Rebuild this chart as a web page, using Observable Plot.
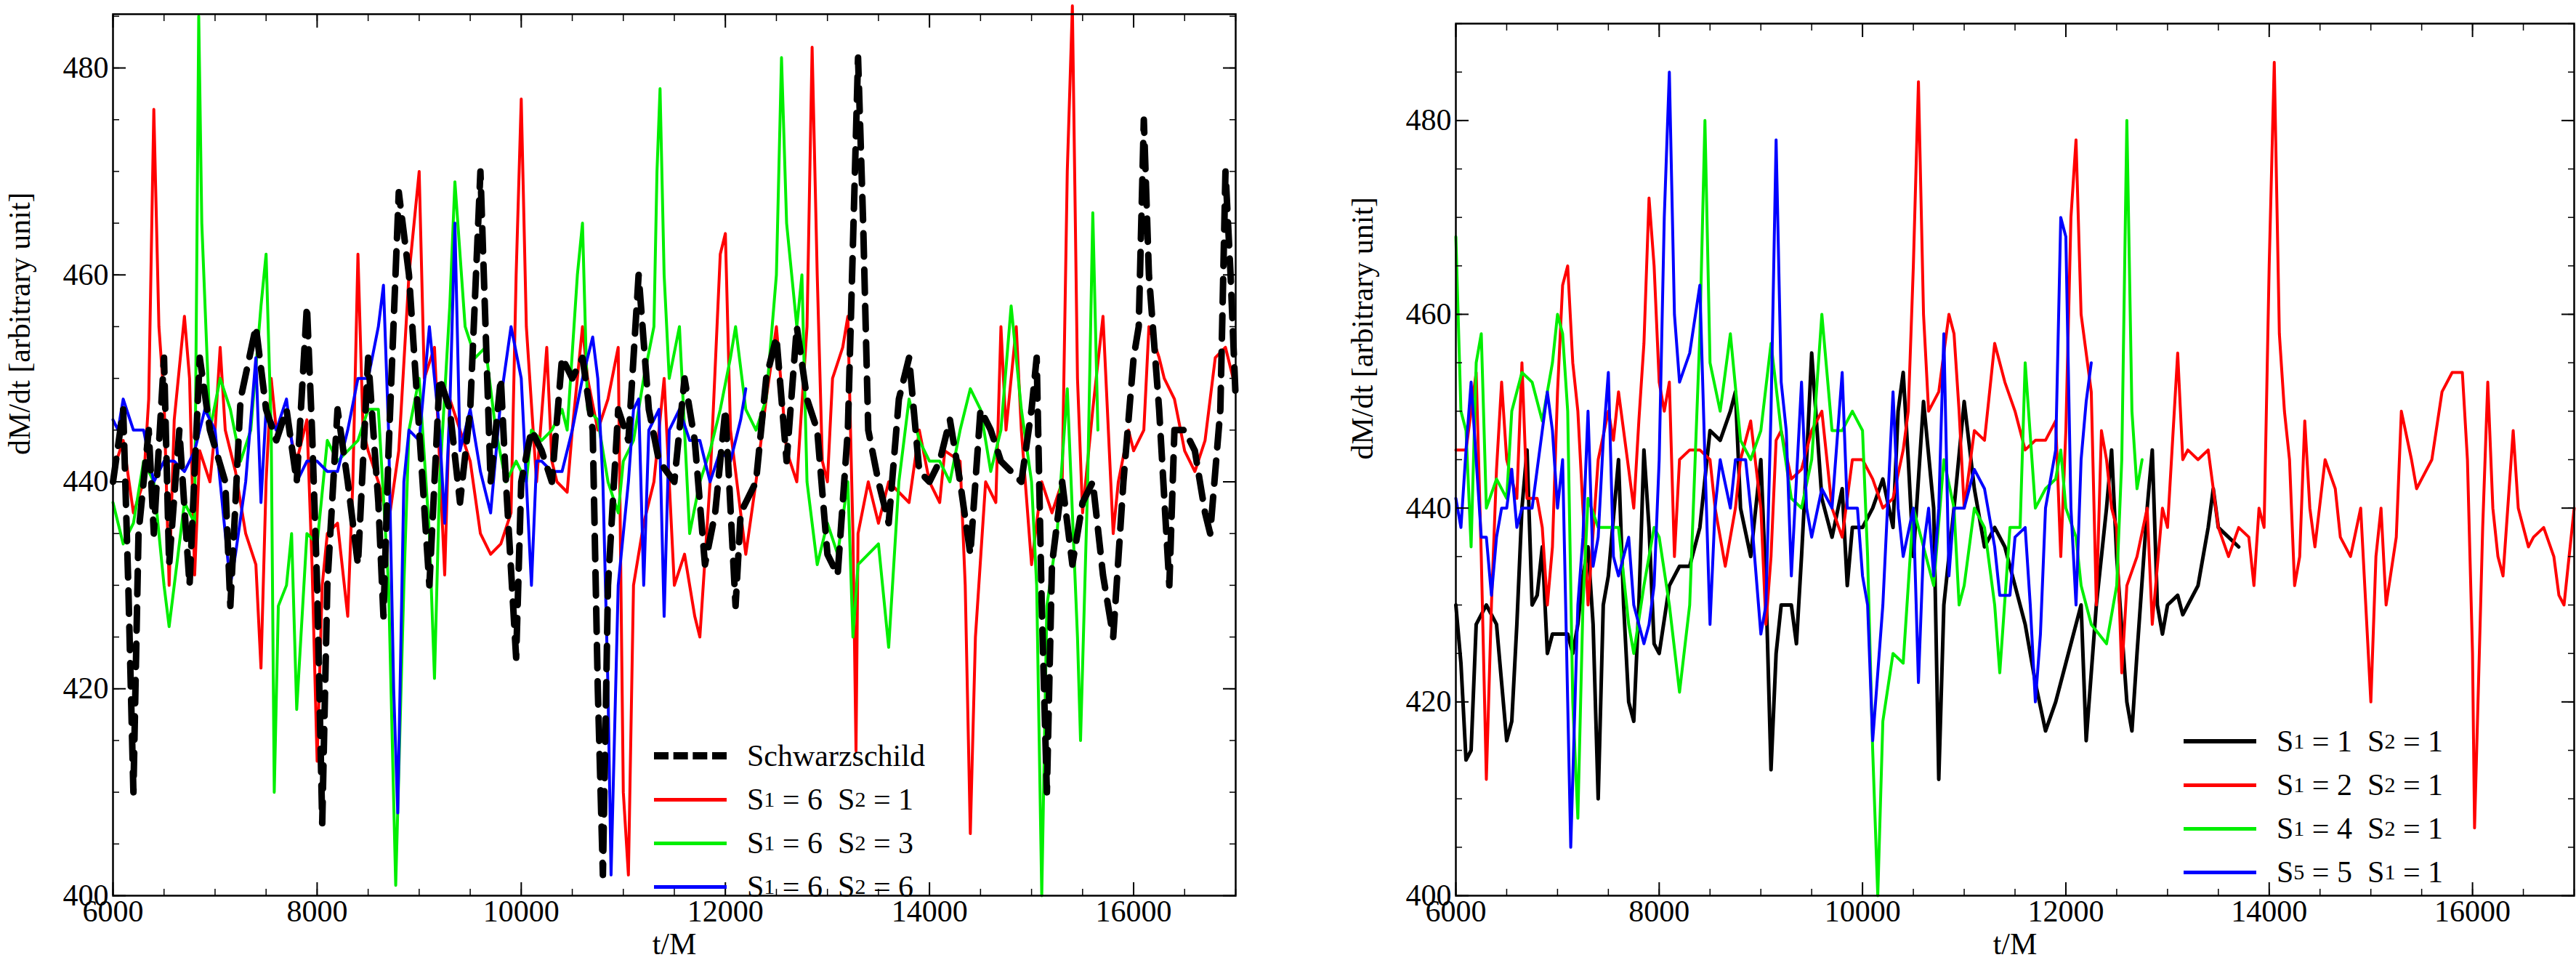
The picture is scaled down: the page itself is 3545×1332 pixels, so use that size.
<!DOCTYPE html>
<html><head><meta charset="utf-8">
<script src="https://cdn.jsdelivr.net/npm/d3@7"></script>
<script src="https://cdn.jsdelivr.net/npm/@observablehq/plot@0.6"></script>
<style>
body{margin:0;background:#fff;font-family:"Liberation Serif",serif;}
#wrap{position:relative;width:3545px;height:1332px;}
.panel{position:absolute;top:0;}
.legend{position:absolute;font-family:"Liberation Serif",serif;font-size:42px;line-height:60px;}
.legend div{display:flex;align-items:center;white-space:nowrap;}
.legend .sw{width:100px;height:0;margin-right:28px;}
sub{font-size:30px;vertical-align:-14px;}
</style></head><body>
<div id="wrap">
 <div class="panel" id="left" style="left:0"></div>
 <div class="panel" id="right" style="left:1772px"></div>
 <div class="legend" style="left:900px;top:1010px">
  <div><span class="sw" style="border-top:10px dashed #000"></span>Schwarzschild</div>
  <div><span class="sw" style="border-top:5px solid #ff0000"></span>S<sub>1</sub>&nbsp;= 6&nbsp;&nbsp;S<sub>2</sub>&nbsp;= 1</div>
  <div><span class="sw" style="border-top:5px solid #00ee00"></span>S<sub>1</sub>&nbsp;= 6&nbsp;&nbsp;S<sub>2</sub>&nbsp;= 3</div>
  <div><span class="sw" style="border-top:5px solid #0000ff"></span>S<sub>1</sub>&nbsp;= 6&nbsp;&nbsp;S<sub>2</sub>&nbsp;= 6</div>
 </div>
 <div class="legend" style="left:3005px;top:990px">
  <div><span class="sw" style="border-top:6px solid #000"></span>S<sub>1</sub>&nbsp;= 1&nbsp;&nbsp;S<sub>2</sub>&nbsp;= 1</div>
  <div><span class="sw" style="border-top:5px solid #ff0000"></span>S<sub>1</sub>&nbsp;= 2&nbsp;&nbsp;S<sub>2</sub>&nbsp;= 1</div>
  <div><span class="sw" style="border-top:5px solid #00ee00"></span>S<sub>1</sub>&nbsp;= 4&nbsp;&nbsp;S<sub>2</sub>&nbsp;= 1</div>
  <div><span class="sw" style="border-top:5px solid #0000ff"></span>S<sub>5</sub>&nbsp;= 5&nbsp;&nbsp;S<sub>1</sub>&nbsp;= 1</div>
 </div>
</div>
<script>
const xTicks=[6000,8000,10000,12000,14000,16000];
const yTicks=[400,420,440,460,480];

const schwarzschild=[[6000,440],[6100,447],[6150,430],[6200,410],[6250,435],[6350,445],[6400,435],[6500,452],[6550,432],[6650,445],[6750,430],[6850,452],[6950,445],[7100,440],[7150,428],[7250,448],[7400,455],[7500,447],[7600,444],[7700,447],[7800,440],[7900,457],[7950,445],[8000,430],[8050,407],[8100,430],[8200,447],[8300,440],[8400,432],[8500,452],[8600,438],[8650,427],[8700,443],[8800,468],[8900,460],[9000,445],[9100,430],[9200,450],[9300,447],[9400,438],[9500,447],[9600,470],[9700,440],[9800,450],[9850,440],[9950,423],[10000,440],[10100,445],[10200,443],[10300,440],[10400,452],[10500,450],[10600,452],[10700,445],[10750,420],[10800,402],[10850,430],[10950,447],[11050,444],[11150,460],[11250,447],[11350,442],[11500,440],[11600,450],[11700,444],[11800,432],[11900,437],[12000,447],[12100,428],[12150,437],[12300,440],[12400,450],[12500,454],[12600,442],[12700,455],[12800,448],[12900,445],[13000,433],[13100,431],[13200,445],[13250,463],[13300,481],[13350,465],[13400,445],[13500,440],[13600,436],[13700,448],[13800,452],[13900,441],[14000,440],[14100,442],[14200,446],[14300,440],[14400,433],[14500,447],[14600,445],[14700,442],[14800,441],[14900,440],[15000,447],[15050,452],[15100,428],[15150,410],[15200,432],[15300,440],[15400,432],[15500,438],[15600,440],[15700,431],[15800,425],[15900,440],[16000,452],[16050,455],[16100,475],[16150,460],[16250,447],[16350,430],[16400,445],[16500,445],[16600,443],[16700,437],[16750,435],[16850,447],[16900,470],[16950,460],[17000,448]];
const s6s1=[[6000,441],[6100,444],[6200,437],[6300,440],[6350,448],[6400,476],[6450,455],[6500,448],[6550,430],[6600,446],[6700,456],[6750,450],[6800,431],[6850,443],[6950,440],[7000,445],[7050,453],[7100,445],[7200,441],[7300,435],[7400,432],[7450,422],[7500,440],[7550,450],[7600,445],[7700,446],[7800,442],[7900,446],[7950,432],[8000,413],[8050,430],[8100,435],[8200,436],[8300,427],[8350,440],[8400,462],[8450,445],[8500,443],[8600,440],[8700,436],[8800,443],[8900,460],[9000,470],[9050,450],[9150,453],[9250,431],[9300,448],[9400,445],[9500,442],[9600,435],[9700,433],[9800,434],[9900,437],[9950,460],[10000,477],[10050,455],[10150,440],[10250,453],[10300,442],[10350,440],[10450,439],[10500,445],[10600,455],[10650,450],[10750,445],[10850,448],[10950,453],[11000,410],[11050,402],[11100,430],[11200,436],[11300,440],[11400,450],[11500,430],[11600,433],[11700,427],[11750,425],[11850,440],[11950,462],[12000,464],[12050,445],[12150,437],[12200,433],[12300,440],[12400,448],[12500,455],[12600,443],[12700,440],[12800,455],[12850,482],[12900,460],[12950,442],[13000,440],[13050,450],[13150,453],[13200,456],[13250,435],[13280,414],[13300,435],[13400,440],[13500,436],[13600,440],[13700,439],[13800,438],[13900,445],[14000,440],[14100,438],[14150,443],[14300,442],[14350,430],[14400,406],[14450,425],[14550,440],[14650,438],[14700,455],[14750,445],[14850,455],[14900,445],[15000,432],[15100,440],[15200,437],[15300,440],[15350,470],[15400,486],[15450,450],[15500,437],[15600,447],[15700,456],[15800,435],[15850,440],[15950,445],[16000,443],[16100,445],[16150,455],[16250,452],[16300,450],[16400,448],[16500,443],[16600,441],[16700,444],[16800,452],[16900,453],[17000,449]];
const s6s3=[[6000,438],[6100,434],[6200,436],[6300,442],[6400,440],[6500,430],[6550,426],[6600,430],[6700,438],[6800,436],[6820,460],[6840,485],[6870,465],[6950,445],[7050,450],[7150,447],[7250,442],[7350,445],[7450,457],[7500,462],[7550,445],[7580,410],[7620,428],[7700,430],[7750,435],[7800,418],[7900,435],[8000,434],[8100,444],[8200,442],[8300,443],[8400,444],[8500,447],[8600,447],[8700,430],[8770,401],[8850,430],[8900,445],[9000,450],[9100,435],[9150,421],[9200,440],[9300,457],[9350,469],[9450,455],[9550,452],[9650,453],[9750,445],[9850,440],[9950,442],[10050,440],[10100,445],[10200,444],[10300,445],[10400,447],[10450,445],[10550,460],[10600,465],[10650,447],[10750,446],[10850,440],[10950,437],[11000,442],[11100,444],[11200,450],[11300,455],[11330,470],[11360,478],[11400,460],[11450,450],[11550,455],[11650,435],[11750,440],[11850,443],[11950,447],[12050,452],[12100,455],[12200,447],[12300,445],[12400,448],[12500,460],[12550,481],[12600,465],[12700,455],[12750,460],[12800,440],[12900,432],[13000,436],[13100,433],[13200,440],[13250,425],[13300,432],[13400,433],[13500,434],[13600,424],[13700,440],[13800,448],[13900,444],[14000,442],[14100,442],[14200,440],[14300,445],[14400,449],[14500,447],[14600,441],[14700,445],[14800,457],[14900,447],[15000,440],[15050,430],[15100,400],[15150,428],[15250,435],[15350,449],[15450,425],[15480,415],[15550,440],[15600,466],[15650,445]];
const s6s6=[[6000,446],[6050,445],[6100,448],[6200,445],[6300,445],[6400,440],[6500,442],[6600,442],[6700,441],[6800,443],[6900,447],[7000,445],[7050,440],[7100,435],[7150,430],[7200,433],[7300,440],[7400,452],[7450,438],[7500,447],[7600,445],[7700,448],[7800,440],[7900,442],[8000,442],[8100,441],[8200,441],[8300,445],[8400,450],[8500,450],[8600,455],[8650,459],[8700,445],[8750,420],[8790,408],[8850,440],[8900,445],[9000,444],[9100,455],[9200,445],[9250,436],[9300,447],[9350,465],[9400,443],[9500,447],[9600,441],[9700,437],[9800,448],[9900,455],[10000,450],[10050,440],[10100,430],[10150,442],[10200,442],[10300,441],[10400,441],[10500,445],[10600,450],[10700,454],[10750,450],[10800,440],[10850,420],[10880,402],[10950,430],[11050,440],[11100,447],[11150,448],[11200,430],[11250,445],[11350,447],[11400,427],[11450,445],[11550,447],[11650,444],[11750,444],[11850,440],[11950,443],[12050,442],[12150,446],[12200,449]];

const s1s1=[[6000,430],[6050,424],[6100,414],[6150,415],[6200,428],[6300,430],[6400,428],[6450,422],[6500,416],[6550,418],[6600,428],[6650,440],[6700,446],[6750,430],[6800,431],[6850,436],[6900,425],[6950,427],[7000,427],[7100,427],[7150,425],[7200,428],[7250,433],[7300,436],[7350,428],[7400,410],[7450,430],[7500,433],[7600,445],[7650,430],[7700,420],[7750,418],[7800,430],[7850,446],[7900,438],[7950,426],[8000,425],[8100,432],[8200,434],[8300,434],[8400,438],[8500,448],[8600,447],[8700,450],[8750,452],[8800,440],[8900,435],[9000,445],[9050,432],[9100,413],[9150,425],[9200,430],[9300,430],[9350,426],[9400,435],[9450,445],[9500,456],[9600,441],[9700,437],[9800,442],[9850,432],[9900,438],[10000,438],[10100,440],[10200,443],[10300,438],[10350,450],[10400,454],[10450,445],[10500,435],[10600,451],[10700,440],[10750,412],[10800,430],[10900,440],[11000,451],[11100,442],[11200,436],[11300,438],[11400,436],[11500,432],[11600,428],[11700,422],[11800,417],[11900,420],[12000,424],[12100,428],[12150,430],[12200,416],[12300,430],[12400,440],[12450,446],[12500,435],[12600,420],[12650,417],[12700,425],[12800,440],[12850,446],[12900,430],[12950,427],[13000,430],[13100,431],[13150,429],[13200,430],[13300,432],[13400,438],[13450,442],[13500,438],[13600,437],[13700,436]];
const s2s1=[[6000,446],[6100,446],[6150,450],[6200,454],[6250,435],[6300,412],[6350,430],[6400,444],[6450,453],[6500,445],[6550,443],[6600,441],[6650,455],[6700,441],[6800,441],[6850,438],[6900,430],[6950,436],[7000,452],[7050,463],[7100,465],[7150,455],[7200,450],[7250,440],[7300,430],[7400,445],[7500,450],[7550,447],[7600,452],[7700,444],[7750,440],[7800,449],[7850,457],[7900,472],[7950,465],[8000,453],[8050,450],[8100,453],[8150,435],[8200,445],[8300,446],[8400,446],[8500,445],[8550,440],[8650,434],[8750,440],[8800,445],[8900,449],[9000,440],[9050,428],[9100,435],[9150,447],[9200,448],[9300,443],[9400,444],[9500,448],[9600,450],[9700,440],[9800,437],[9900,445],[10000,445],[10100,443],[10200,440],[10300,441],[10400,446],[10450,450],[10500,465],[10550,484],[10600,460],[10650,450],[10750,452],[10850,460],[10900,458],[10950,450],[11000,440],[11100,448],[11200,447],[11300,457],[11400,453],[11500,450],[11600,446],[11700,447],[11800,447],[11900,449],[11950,435],[12000,448],[12050,470],[12100,478],[12150,460],[12250,452],[12300,430],[12350,448],[12400,445],[12450,440],[12500,438],[12550,423],[12600,432],[12700,435],[12800,440],[12850,428],[12950,440],[13000,438],[13100,456],[13150,445],[13200,446],[13300,445],[13400,446],[13500,438],[13600,435],[13700,438],[13800,437],[13850,432],[13900,440],[13950,438],[14000,465],[14050,486],[14100,458],[14150,450],[14200,445],[14250,432],[14300,435],[14350,449],[14400,440],[14450,436],[14550,445],[14650,442],[14700,437],[14800,435],[14900,440],[14950,430],[15000,420],[15050,435],[15100,440],[15150,430],[15250,437],[15300,450],[15400,445],[15450,442],[15500,443],[15600,445],[15700,452],[15800,454],[15900,454],[15950,445],[16000,425],[16020,407],[16080,430],[16100,438],[16150,453],[16200,440],[16250,435],[16300,433],[16400,448],[16450,440],[16550,436],[16600,437],[16700,438],[16800,435],[16850,431],[16900,430],[16950,435],[17000,440]];
const s4s1=[[6000,468],[6050,450],[6100,448],[6150,436],[6200,455],[6250,458],[6300,440],[6400,443],[6500,441],[6550,450],[6650,454],[6750,453],[6850,449],[6950,455],[7000,460],[7050,458],[7100,450],[7150,420],[7200,408],[7250,430],[7300,441],[7400,438],[7500,438],[7600,438],[7700,428],[7750,425],[7850,432],[7950,438],[8000,437],[8100,430],[8200,421],[8300,430],[8400,458],[8450,480],[8500,455],[8600,450],[8700,458],[8800,447],[8900,445],[9000,448],[9100,457],[9200,448],[9300,441],[9400,440],[9500,445],[9600,460],[9700,448],[9800,448],[9900,450],[10000,448],[10050,435],[10100,415],[10150,400],[10200,418],[10300,425],[10400,424],[10500,440],[10600,436],[10700,432],[10800,445],[10900,440],[10950,430],[11000,432],[11100,440],[11200,438],[11300,430],[11350,423],[11450,438],[11550,438],[11600,455],[11700,440],[11800,442],[11900,443],[11950,446],[12000,440],[12100,437],[12150,432],[12250,428],[12400,426],[12500,432],[12550,445],[12600,480],[12650,450],[12700,442],[12750,445]];
const s5s1=[[6000,441],[6050,438],[6100,446],[6150,453],[6200,445],[6250,437],[6300,437],[6350,431],[6400,437],[6450,440],[6500,440],[6550,444],[6600,438],[6650,440],[6750,440],[6800,444],[6900,452],[6950,448],[7000,440],[7050,445],[7100,420],[7130,405],[7200,430],[7250,437],[7300,450],[7350,434],[7400,437],[7450,447],[7500,454],[7550,435],[7600,433],[7700,437],[7750,430],[7850,426],[7900,428],[7950,432],[8000,445],[8050,470],[8100,485],[8150,460],[8200,453],[8300,456],[8400,463],[8450,445],[8500,428],[8550,440],[8600,445],[8700,440],[8750,445],[8850,445],[8900,440],[9000,427],[9050,430],[9100,450],[9150,478],[9200,453],[9250,448],[9300,433],[9400,453],[9450,440],[9500,437],[9600,442],[9700,440],[9800,454],[9850,440],[9950,440],[10000,433],[10050,430],[10100,416],[10200,430],[10300,452],[10350,440],[10400,435],[10500,440],[10550,422],[10600,436],[10650,440],[10700,433],[10750,440],[10800,458],[10850,433],[10900,440],[11000,440],[11100,444],[11200,442],[11300,436],[11350,431],[11450,431],[11500,437],[11600,438],[11650,430],[11700,420],[11750,427],[11800,440],[11900,446],[11950,470],[12000,468],[12050,440],[12100,430],[12150,445],[12200,451],[12250,455]];

const font='"Liberation Serif", serif';
const fmt=d3.format("d");
function frameMarks(){
  const xMinor=d3.range(6000,17001,500), yMinor=d3.range(400,491,5);
  return [
    Plot.frame({stroke:"#000",strokeWidth:2.5}),
    Plot.axisX(xTicks,{anchor:"bottom",tickSize:-18,tickPadding:24,fontSize:42,tickFormat:fmt,strokeWidth:2,label:null}),
    Plot.axisX(xMinor,{anchor:"bottom",tickSize:-9,text:null,strokeWidth:1.5,label:null}),
    Plot.axisX(xTicks,{anchor:"top",tickSize:-18,text:null,strokeWidth:2,label:null}),
    Plot.axisX(xMinor,{anchor:"top",tickSize:-9,text:null,strokeWidth:1.5,label:null}),
    Plot.axisY(yTicks,{anchor:"left",tickSize:-18,tickPadding:24,fontSize:42,tickFormat:fmt,strokeWidth:2,label:null}),
    Plot.axisY(yMinor,{anchor:"left",tickSize:-9,text:null,strokeWidth:1.5,label:null}),
    Plot.axisY(yTicks,{anchor:"right",tickSize:-18,text:null,strokeWidth:2,label:null}),
    Plot.axisY(yMinor,{anchor:"right",tickSize:-9,text:null,strokeWidth:1.5,label:null})
  ];
}
function line(data,color,w,dash){
  return Plot.line(data,{x:d=>d[0],y:d=>d[1],stroke:color,strokeWidth:w,strokeDasharray:dash,strokeLinejoin:"round"});
}
function makePlot(opts,yMax,lines){
  return Plot.plot({
    width:opts.width,height:1332,
    marginLeft:opts.ml,marginRight:opts.mr,marginTop:opts.mt,marginBottom:100,
    style:{fontFamily:font,fontSize:"42px",background:"#fff",color:"#000"},
    x:{domain:[6000,17000]},
    y:{domain:[400,yMax]},
    marks:[...lines,...frameMarks(),
      Plot.text(["t/M"],{frameAnchor:"bottom",dy:80,fontSize:42,fontFamily:font}),
      Plot.text(["dM/dt [arbitrary unit]"],{frameAnchor:"left",dx:-128,rotate:-90,fontSize:42,fontFamily:font})
    ]
  });
}
document.getElementById("left").append(makePlot({width:1772,ml:155,mr:72,mt:19},485.2,[
  line(s6s1,"#ff0000",4),line(s6s3,"#00ee00",4),line(s6s6,"#0000ff",4),
  line(schwarzschild,"#000",9,"32,18")
]));
document.getElementById("right").append(makePlot({width:1773,ml:231,mr:3,mt:32},490,[
  line(s1s1,"#000",5),line(s2s1,"#ff0000",4),line(s4s1,"#00ee00",4),line(s5s1,"#0000ff",4)
]));
</script>
</body></html>
